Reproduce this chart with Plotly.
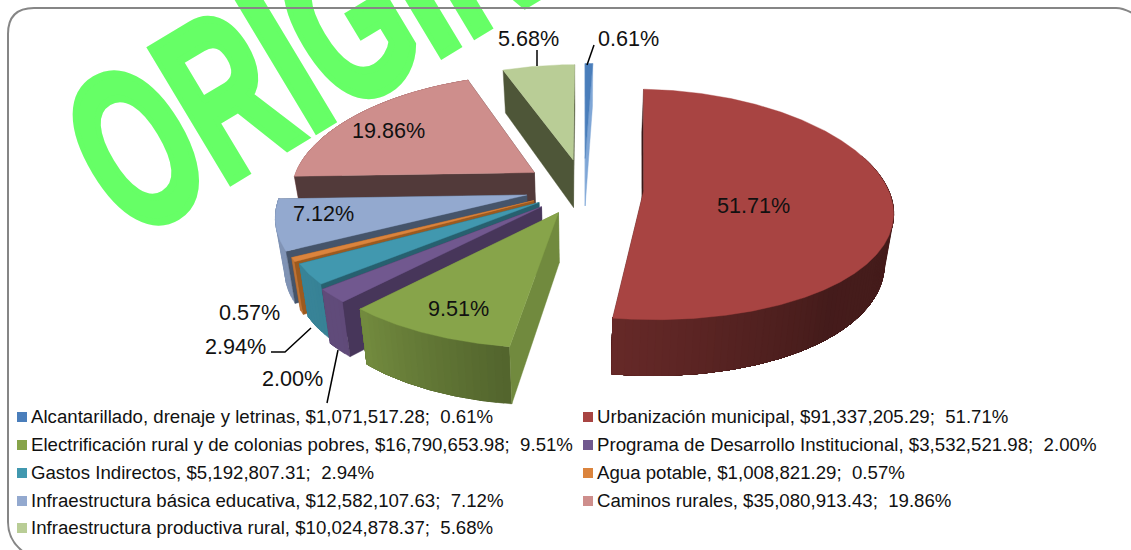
import numpy as np
import plotly.graph_objects as go

# ---- data ----
categories = ["Alcantarillado, drenaje y letrinas", "Urbanización municipal",
              "Electrificación rural y de colonias pobres", "Programa de Desarrollo Institucional",
              "Gastos Indirectos", "Agua potable", "Infraestructura básica educativa",
              "Caminos rurales", "Infraestructura productiva rural"]
amounts = [1071517.28, 91337205.29, 16790653.98, 3532521.98, 5192807.31,
           1008821.29, 12582107.63, 35080913.43, 10024878.37]
percents = [0.61, 51.71, 9.51, 2.00, 2.94, 0.57, 7.12, 19.86, 5.68]

# ---- style ----
face = ["#4a7ebb", "#a84442", "#87a44a", "#71588f", "#4198af", "#db843d", "#93a9cf", "#ce8e8c", "#b9cd96"]
wall = ["#7fa6d6", "#3a1a18", "#718a3e", "#47365a", "#27606f", "#9c5a1f", "#45546a", "#523a3a", "#4e5638"]
explode = [0.27, 0.245, 0.235, 0.235, 0.22, 0.23, 0.24, 0.25, 0.26]
draw_order = [8, 0, 7, 6, 5, 4, 3, 1, 2]

# ---- projection of the tilted pie ----
CX, CY, A, B, PX, PY, H, SHRINK = 584, 188, 244, 113, 0.16, 0.12, 49, 0.97


def project(X, Y, low=False):
    wx = 1 + PX * np.asarray(Y)
    wy = 1 + PY * np.asarray(Y)
    sx = A * np.asarray(X) / wx
    sy = CY - B * np.asarray(Y) / wy
    if low:
        return CX + sx * SHRINK, sy + H / wy
    return CX + sx, sy


def rgb(hexc, f):
    c = [int(hexc[i:i + 2], 16) for i in (1, 3, 5)]
    return "rgb(%d,%d,%d)" % tuple(min(255, int(v * f)) for v in c)


def rim_shade(t):
    return np.interp(t, [100, 140, 190, 222, 250, 300], [0.42, 0.41, 0.62, 0.85, 0.88, 0.88])


fig = go.Figure()


def poly(xs, ys, color):
    fig.add_trace(go.Scatter(x=list(xs), y=list(ys), mode="lines", fill="toself", fillcolor=color,
                             line=dict(color=color, width=0.4), hoverinfo="skip", showlegend=False))


total = sum(amounts)
cum = np.cumsum([0] + amounts) / total * 360
for i in draw_order:
    a1, a2 = cum[i], cum[i + 1]
    mid = np.radians((a1 + a2) / 2)
    X0, Y0 = explode[i] * np.sin(mid), explode[i] * np.cos(mid)
    t = np.radians(np.linspace(a1, a2, max(4, int((a2 - a1) * 2))))
    Xr, Yr = X0 + np.sin(t), Y0 + np.cos(t)
    ax, ay = project(X0, Y0)
    alx, aly = project(X0, Y0, True)

    def radial(j):
        ex, ey = project(Xr[j], Yr[j])
        elx, ely = project(Xr[j], Yr[j], True)
        poly([ax, ex, elx, alx, ax], [ay, ey, ely, aly, ay], wall[i])

    radial(-1)
    # outer rim: each piece reaches to the end and the next one paints over it, so no seams show
    step = 3
    deg = np.degrees(t)
    for k in range(0, len(t) - 1, step):
        idx = np.arange(k, len(t))
        if np.cos(t[k:k + step + 1]).min() > 0.3:
            continue
        tx, ty = project(Xr[idx], Yr[idx])
        lx, ly = project(Xr[idx], Yr[idx], True)
        poly(np.r_[tx, lx[::-1], tx[0]], np.r_[ty, ly[::-1], ty[0]],
             rgb(face[i], rim_shade(deg[k:k + step + 1].mean())))
    radial(0)
    # top
    tx, ty = project(Xr, Yr)
    poly(np.r_[ax, tx, ax], np.r_[ay, ty, ay], face[i])

# leader lines
leaders = [([537, 537], [50, 66]), ([594, 587], [45, 65]),
           ([271, 285, 311], [352, 352, 328]), ([327, 338], [403, 350])]
for lx, ly in leaders:
    fig.add_trace(go.Scatter(x=lx, y=ly, mode="lines", line=dict(color="black", width=1.5),
                             hoverinfo="skip", showlegend=False))

# legend
leg_cols = [17, 583]
leg_rows = [417, 445, 473, 501, 528]
annotations = []
for i, name in enumerate(categories):
    c, r = i % 2, i // 2
    fig.add_trace(go.Scatter(x=[leg_cols[c] + 5], y=[leg_rows[r]], mode="markers",
                             marker=dict(symbol="square", size=10, color=face[i]),
                             hoverinfo="skip", showlegend=False))
    annotations.append(dict(x=leg_cols[c] + 12, y=leg_rows[r] - 0.5, xref="x", yref="y", xanchor="left", yanchor="middle",
                            showarrow=False, text=f"{name}, ${amounts[i]:,.2f};\u00a0\u00a0{percents[i]:.2f}%",
                            font=dict(family="Liberation Sans", size=18.65, color="#111111")))

# data labels
label_pos = [(628, 38), (753, 205), (458, 308), (292, 378), (235, 346), (249, 312), (323, 213), (388, 130), (528, 38)]
for p, (x, y) in zip(percents, label_pos):
    annotations.append(dict(x=x, y=y, xref="x", yref="y", showarrow=False, text=f"{p:.2f}%",
                            font=dict(family="Liberation Sans", size=21.6, color="#111111")))

shapes = [
    dict(type="rect", xref="x", yref="y", layer="below", x0=349, x1=389, y0=-37, y1=3,
         line=dict(width=0), fillcolor="rgba(0,0,0,0)",
         label=dict(text="ORIGINAL", textangle=-31, textposition="middle center",
                    font=dict(family="Liberation Sans", weight=700, size=225, color="#66ff66"))),
    dict(type="path", xref="x", yref="y", layer="below",
         path="M 34 8 L 1116 8 Q 1126 8 1140 18 M 34 8 Q 8 8 8 34 L 8 522 Q 8 544 30 556",
         line=dict(color="#868686", width=2)),
]

fig.update_layout(width=1131, height=550, margin=dict(l=0, r=0, t=0, b=0),
                  paper_bgcolor="white", plot_bgcolor="white", showlegend=False,
                  xaxis=dict(range=[0, 1131], visible=False, fixedrange=True),
                  yaxis=dict(range=[550, 0], visible=False, fixedrange=True),
                  shapes=shapes, annotations=annotations)

post = """
document.body.style.margin='0';
function squeeze(){
  document.querySelectorAll('text').forEach(function(t){
    if(t.textContent==='ORIGINAL'){
      var x=+t.getAttribute('x'), y=+t.getAttribute('y');
      t.setAttribute('transform','rotate(-31 '+x+' '+y+') translate('+x+' '+y+') scale(0.615 1) translate('+(-x)+' '+(-y)+')');
      t.style.stroke='#66ff66'; t.style.strokeWidth='8px'; t.style.strokeLinejoin='miter';
    }
  });
}
squeeze(); setTimeout(squeeze,50); setTimeout(squeeze,300);
"""
fig.write_html("out.html", post_script=post, config={"displayModeBar": False})
